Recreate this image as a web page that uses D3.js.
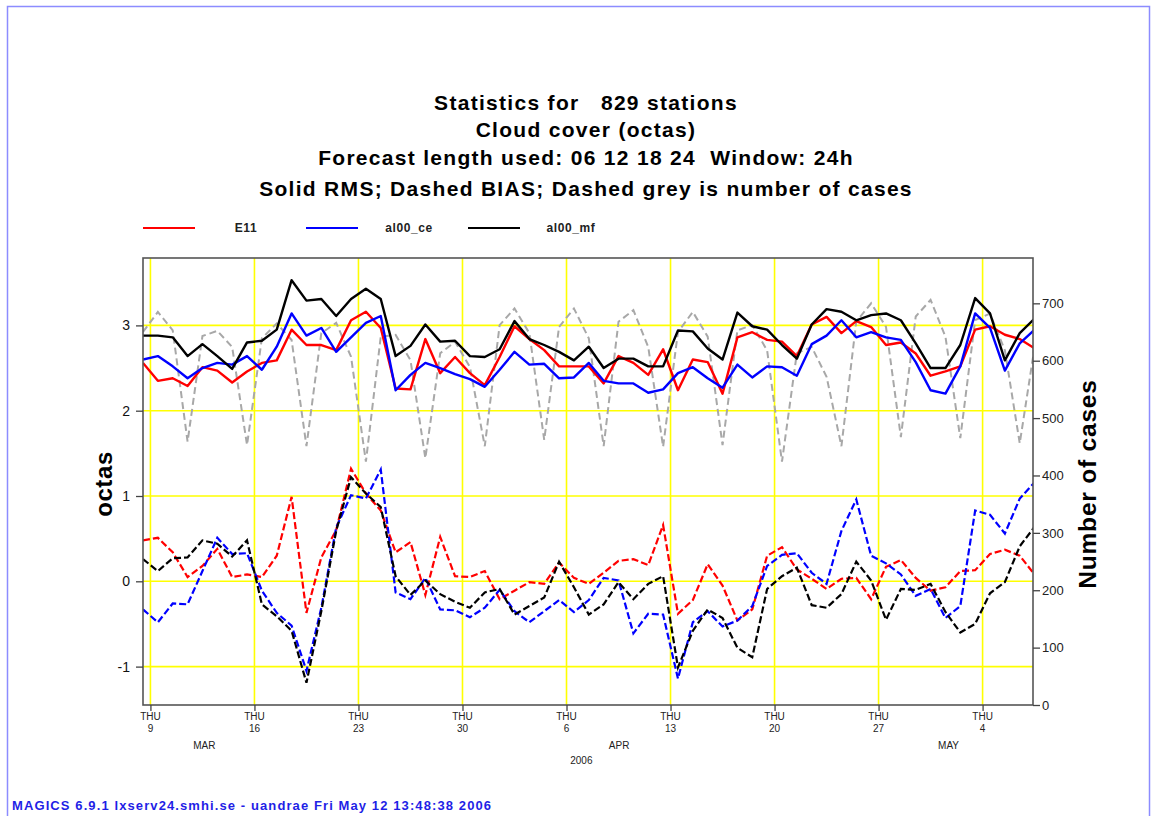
<!DOCTYPE html>
<html>
<head>
<meta charset="utf-8">
<script src="https://cdn.jsdelivr.net/npm/d3@7"></script>
<style>
  html, body { margin: 0; padding: 0; background: #fff; }
  svg text { font-family: "Liberation Sans", Arial, Helvetica, sans-serif; }
</style>
</head>
<body>
<div id="chart"></div>
<script>
/**
 * Cloud cover verification: RMS (solid), BIAS (dashed), number of cases (grey dashed)
 * Daily values, 12 UTC, 8 Mar 2006 .. 7 May 2006
 */

var START_DATE = '2006-03-08T12:00:00Z';
var N_DAYS = 61;

var seriesNames = ['E11', 'al00_ce', 'al00_mf'];
var seriesColors = ['#ff0000', '#0000ff', '#000000'];

// RMS, octas
var rmsE11 = [2.56, 2.35, 2.38, 2.29, 2.51, 2.47, 2.33, 2.46, 2.56, 2.59,
    2.95, 2.77, 2.77, 2.71, 3.06, 3.16, 2.97, 2.26, 2.25, 2.84,
    2.44, 2.63, 2.44, 2.30, 2.63, 2.99, 2.84, 2.71, 2.52, 2.52,
    2.52, 2.32, 2.64, 2.56, 2.42, 2.72, 2.24, 2.60, 2.57, 2.20,
    2.86, 2.92, 2.83, 2.81, 2.64, 3.01, 3.10, 2.91, 3.05, 2.98,
    2.77, 2.80, 2.67, 2.41, 2.46, 2.52, 2.95, 2.99, 2.89, 2.84, 2.73];
var rmsCe = [2.60, 2.64, 2.52, 2.38, 2.50, 2.56, 2.54, 2.64, 2.48, 2.75,
    3.14, 2.88, 2.97, 2.69, 2.86, 3.03, 3.11, 2.24, 2.42, 2.56,
    2.50, 2.43, 2.37, 2.28, 2.48, 2.69, 2.54, 2.55, 2.38, 2.39,
    2.56, 2.35, 2.32, 2.32, 2.21, 2.25, 2.44, 2.51, 2.38, 2.27,
    2.54, 2.39, 2.52, 2.51, 2.41, 2.78, 2.88, 3.06, 2.86, 2.92,
    2.86, 2.83, 2.57, 2.24, 2.20, 2.52, 3.14, 2.97, 2.47, 2.79, 2.95];
var rmsMf = [2.88, 2.88, 2.86, 2.64, 2.78, 2.64, 2.49, 2.80, 2.82, 2.95,
    3.53, 3.29, 3.31, 3.11, 3.31, 3.43, 3.31, 2.64, 2.76, 3.01,
    2.81, 2.82, 2.64, 2.63, 2.72, 3.05, 2.84, 2.77, 2.69, 2.59,
    2.75, 2.50, 2.61, 2.61, 2.52, 2.52, 2.94, 2.93, 2.73, 2.60,
    3.15, 2.99, 2.95, 2.77, 2.61, 3.01, 3.19, 3.16, 3.06, 3.12,
    3.14, 3.06, 2.79, 2.50, 2.50, 2.77, 3.32, 3.14, 2.59, 2.91, 3.08];

// BIAS, octas
var biasE11 = [0.48, 0.51, 0.34, 0.05, 0.18, 0.38, 0.05, 0.08, 0.05, 0.30,
    0.99, -0.37, 0.28, 0.60, 1.32, 1.03, 0.83, 0.34, 0.46, -0.16,
    0.52, 0.06, 0.05, 0.12, -0.21, -0.11, -0.01, -0.03, 0.22, 0.04,
    -0.03, 0.10, 0.24, 0.26, 0.19, 0.66, -0.38, -0.22, 0.20, -0.05,
    -0.46, -0.33, 0.30, 0.40, 0.14, 0.03, -0.09, 0.03, 0.04, -0.21,
    0.17, 0.25, 0.04, -0.11, -0.07, 0.12, 0.13, 0.32, 0.37, 0.30, 0.08];
var biasCe = [-0.33, -0.48, -0.26, -0.27, 0.12, 0.51, 0.32, 0.33, -0.11, -0.37,
    -0.52, -1.05, -0.31, 0.63, 1.01, 0.97, 1.31, -0.13, -0.21, 0.04,
    -0.33, -0.34, -0.42, -0.31, -0.10, -0.35, -0.48, -0.35, -0.22, -0.36,
    -0.22, 0.04, 0.01, -0.61, -0.38, -0.39, -1.14, -0.48, -0.35, -0.53,
    -0.46, -0.29, 0.18, 0.31, 0.33, 0.10, -0.03, 0.59, 0.96, 0.30,
    0.21, 0.08, -0.17, -0.09, -0.43, -0.29, 0.83, 0.78, 0.56, 0.97, 1.16];
var biasMf = [0.26, 0.12, 0.27, 0.28, 0.48, 0.44, 0.29, 0.48, -0.27, -0.41,
    -0.58, -1.19, -0.35, 0.59, 1.22, 1.03, 0.87, 0.06, -0.16, 0.01,
    -0.15, -0.24, -0.31, -0.13, -0.09, -0.39, -0.29, -0.19, 0.23, -0.07,
    -0.39, -0.27, -0.01, -0.21, -0.03, 0.06, -1.01, -0.58, -0.33, -0.43,
    -0.78, -0.89, -0.09, 0.06, 0.16, -0.28, -0.31, -0.15, 0.23, 0.01,
    -0.45, -0.09, -0.10, -0.03, -0.36, -0.60, -0.50, -0.14, -0.01, 0.41, 0.64];

// Number of cases (right axis)
var nCases = [650, 685, 653, 459, 643, 652, 624, 453, 639, 665,
    636, 451, 648, 666, 607, 424, 642, 645, 601, 430,
    613, 633, 589, 451, 662, 691, 648, 462, 659, 691,
    639, 451, 668, 688, 624, 450, 650, 685, 642, 453,
    653, 662, 618, 424, 613, 624, 572, 451, 668, 700,
    659, 467, 677, 706, 642, 465, 671, 682, 618, 456, 624];

var leftTicks = [-1, 0, 1, 2, 3];
var rightTicks = [0, 100, 200, 300, 400, 500, 600, 700];
var monthNames = ['MAR', 'APR', 'MAY'];
var monthLabelDates = ['2006-03-12T15:00:00Z', '2006-04-09T13:00:00Z', '2006-05-01T17:00:00Z'];
var yearLabel = '2006';
var yearLabelDate = '2006-04-07T00:00:00Z';

var titleLines = [
    'Statistics for \u00a0\u00a0829 stations',
    'Cloud cover (octas)',
    'Forecast length used: 06 12 18 24 \u00a0Window: 24h',
    'Solid RMS; Dashed BIAS; Dashed grey is number of cases'
];
var footerText = 'MAGICS 6.9.1 lxserv24.smhi.se - uandrae Fri May 12 13:48:38 2006';

function renderChart() {
    var width = 1152, height = 816;
    var plot = { left: 143, right: 1033, top: 258, bottom: 705 };
    var pxPerDay = 14.86;

    var svg = d3.select('#chart').append('svg')
        .attr('width', width)
        .attr('height', height);

    // page border
    svg.append('rect')
        .attr('x', 7.5).attr('y', 6.5)
        .attr('width', 1142).attr('height', 840)
        .attr('fill', 'none')
        .attr('stroke', '#8c8cff')
        .attr('stroke-width', 1.5);

    var start = new Date(START_DATE);
    var dates = d3.range(N_DAYS).map(function(i) { return d3.utcDay.offset(start, i); });

    // last day runs slightly past the frame and gets clipped
    var x = d3.scaleUtc()
        .domain([dates[0], dates[N_DAYS - 1]])
        .range([plot.left, plot.left + (N_DAYS - 1) * pxPerDay]);
    var yL = d3.scaleLinear().domain([-1.45, 3.79]).range([plot.bottom, plot.top]);
    var yR = d3.scaleLinear().domain([0, 779]).range([plot.bottom, plot.top]);

    var thursdays = d3.utcThursday.range(dates[0], d3.utcDay.offset(dates[N_DAYS - 1], 1));

    // Titles
    svg.append('g').selectAll('text')
        .data(titleLines)
        .enter().append('text')
        .attr('x', 586)
        .attr('y', function(d, i) { return [110, 137, 165, 196][i]; })
        .attr('text-anchor', 'middle')
        .attr('font-size', '21px')
        .attr('font-weight', 'bold')
        .attr('letter-spacing', '1.3px')
        .attr('fill', '#000')
        .text(function(d) { return d; });

    // Legend
    var legendX = [143, 306, 468];
    var legend = svg.append('g').selectAll('g')
        .data(seriesNames)
        .enter().append('g')
        .attr('transform', function(d, i) { return 'translate(' + legendX[i] + ',228)'; });
    legend.append('line')
        .attr('x1', 0).attr('x2', 52)
        .attr('stroke', function(d, i) { return seriesColors[i]; })
        .attr('stroke-width', 2);
    legend.append('text')
        .attr('x', 103).attr('y', 4)
        .attr('text-anchor', 'middle')
        .attr('font-size', '12px')
        .attr('font-weight', 'bold')
        .attr('letter-spacing', '0.6px')
        .attr('fill', '#222')
        .text(function(d) { return d; });

    // Grid
    var grid = svg.append('g').attr('stroke', '#ffff00').attr('stroke-width', 1.6);
    grid.selectAll('.hg').data(leftTicks).enter().append('line')
        .attr('x1', plot.left).attr('x2', plot.right)
        .attr('y1', function(d) { return yL(d); })
        .attr('y2', function(d) { return yL(d); });
    grid.selectAll('.vg').data(thursdays).enter().append('line')
        .attr('x1', function(d) { return x(d); })
        .attr('x2', function(d) { return x(d); })
        .attr('y1', plot.top).attr('y2', plot.bottom);

    svg.append('clipPath').attr('id', 'plot-clip')
        .append('rect')
        .attr('x', plot.left).attr('y', plot.top)
        .attr('width', plot.right - plot.left)
        .attr('height', plot.bottom - plot.top);

    var lines = svg.append('g').attr('clip-path', 'url(#plot-clip)');

    // number of cases, grey dashed on right axis
    var caseLine = d3.line()
        .x(function(d, i) { return x(dates[i]); })
        .y(function(d) { return yR(d); });
    lines.append('path')
        .attr('d', caseLine(nCases))
        .attr('fill', 'none')
        .attr('stroke', '#a8a8a8')
        .attr('stroke-width', 2)
        .attr('stroke-dasharray', '7,4');

    var octaLine = d3.line()
        .x(function(d, i) { return x(dates[i]); })
        .y(function(d) { return yL(d); });

    var biasSeries = [biasE11, biasCe, biasMf];
    var rmsSeries = [rmsE11, rmsCe, rmsMf];

    biasSeries.forEach(function(s, k) {
        lines.append('path')
            .attr('d', octaLine(s))
            .attr('fill', 'none')
            .attr('stroke', seriesColors[k])
            .attr('stroke-width', 2.2)
            .attr('stroke-dasharray', '7,3');
    });
    rmsSeries.forEach(function(s, k) {
        lines.append('path')
            .attr('d', octaLine(s))
            .attr('fill', 'none')
            .attr('stroke', seriesColors[k])
            .attr('stroke-width', 2.4)
            .attr('stroke-linejoin', 'round');
    });

    // Frame
    svg.append('rect')
        .attr('x', plot.left).attr('y', plot.top)
        .attr('width', plot.right - plot.left)
        .attr('height', plot.bottom - plot.top)
        .attr('fill', 'none')
        .attr('stroke', '#555')
        .attr('stroke-width', 1.6);

    // Left axis (plain hyphen for negatives, like the original)
    var leftAxis = svg.append('g')
        .attr('transform', 'translate(' + plot.left + ',0)')
        .call(d3.axisLeft(yL).tickValues(leftTicks).tickSize(7).tickPadding(6)
            .tickFormat(function(d) { return String(d); }));
    leftAxis.select('.domain').remove();
    leftAxis.selectAll('line').attr('stroke', '#444').attr('stroke-width', 1.3);
    leftAxis.selectAll('text')
        .attr('font-size', '14px')
        .attr('font-family', '"Liberation Sans", Arial, sans-serif')
        .attr('fill', '#111');

    // Right axis
    var rightAxis = svg.append('g')
        .attr('transform', 'translate(' + plot.right + ',0)')
        .call(d3.axisRight(yR).tickValues(rightTicks).tickSize(7).tickPadding(2));
    rightAxis.select('.domain').remove();
    rightAxis.selectAll('line').attr('stroke', '#444').attr('stroke-width', 1.3);
    rightAxis.selectAll('text')
        .attr('font-size', '13px')
        .attr('font-family', '"Liberation Sans", Arial, sans-serif')
        .attr('fill', '#222');

    // Bottom axis: THU / day of month
    var bottomAxis = svg.append('g')
        .attr('transform', 'translate(0,' + plot.bottom + ')')
        .call(d3.axisBottom(x).tickValues(thursdays).tickSize(6).tickFormat(''));
    bottomAxis.select('.domain').remove();
    bottomAxis.selectAll('line').attr('stroke', '#444').attr('stroke-width', 1.3);

    var dayFmt = d3.utcFormat('%-d');
    var tickLabels = svg.append('g').selectAll('g')
        .data(thursdays)
        .enter().append('g')
        .attr('transform', function(d) { return 'translate(' + x(d) + ',0)'; });
    tickLabels.append('text')
        .attr('y', 720)
        .attr('text-anchor', 'middle')
        .attr('font-size', '10px')
        .attr('fill', '#222')
        .text('THU');
    tickLabels.append('text')
        .attr('y', 732)
        .attr('text-anchor', 'middle')
        .attr('font-size', '10px')
        .attr('fill', '#222')
        .text(function(d) { return dayFmt(d); });

    svg.append('g').selectAll('text')
        .data(monthNames)
        .enter().append('text')
        .attr('x', function(d, i) { return x(new Date(monthLabelDates[i])); })
        .attr('y', 749)
        .attr('text-anchor', 'middle')
        .attr('font-size', '10px')
        .attr('fill', '#222')
        .text(function(d) { return d; });
    svg.append('text')
        .attr('x', x(new Date(yearLabelDate)))
        .attr('y', 764)
        .attr('text-anchor', 'middle')
        .attr('font-size', '10px')
        .attr('fill', '#222')
        .text(yearLabel);

    // Axis titles
    svg.append('text')
        .attr('transform', 'translate(112,484) rotate(-90)')
        .attr('text-anchor', 'middle')
        .attr('font-size', '24px')
        .attr('font-weight', 'bold')
        .attr('letter-spacing', '0.6px')
        .text('octas');
    svg.append('text')
        .attr('transform', 'translate(1096,484) rotate(-90)')
        .attr('text-anchor', 'middle')
        .attr('font-size', '24.5px')
        .attr('font-weight', 'bold')
        .attr('letter-spacing', '0.8px')
        .text('Number of cases');

    // Footer
    svg.append('text')
        .attr('x', 12).attr('y', 810)
        .attr('font-size', '13px')
        .attr('font-weight', 'bold')
        .attr('letter-spacing', '1.1px')
        .attr('fill', '#1f1fe6')
        .text(footerText);
}

renderChart();
</script>
</body>
</html>
